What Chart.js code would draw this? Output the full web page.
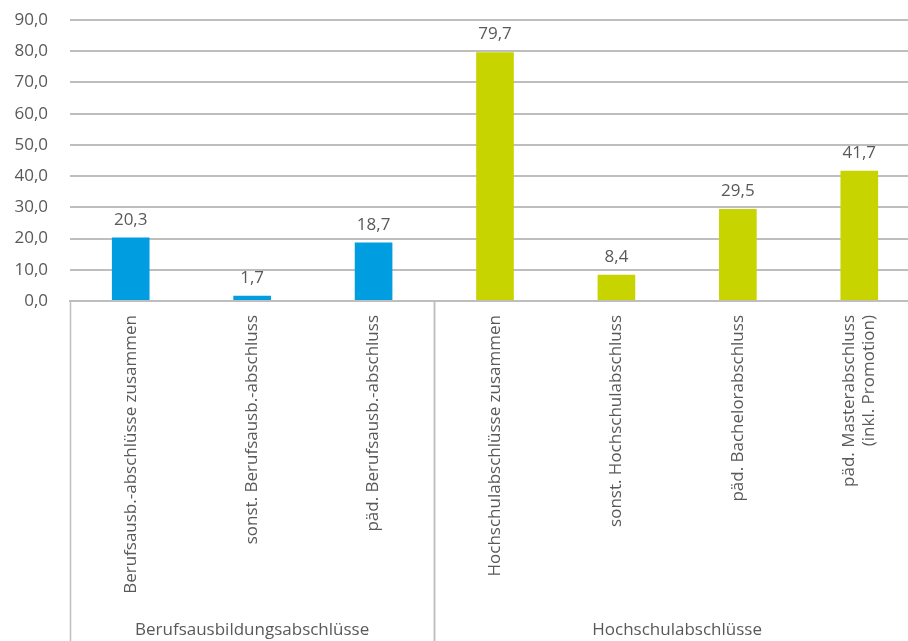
<!DOCTYPE html>
<html lang="de">
<head>
<meta charset="utf-8">
<script src="https://cdn.jsdelivr.net/npm/chart.js@4"></script>
<style>
  html, body { margin: 0; padding: 0; background: #fff; overflow: hidden; }
  /* Rahmen etwas breiter als das Fenster: im Original ist die letzte Kategorie rechts angeschnitten */
  #rahmen { width: 920px; height: 641px; }
</style>
</head>
<body>
<div id="rahmen"><canvas id="abschlussChart"></canvas></div>
<script>
// --- Daten ---
const KATEGORIEN = [
  'Berufsausb.-abschlüsse zusammen',
  'sonst. Berufsausb.-abschluss',
  'päd. Berufsausb.-abschluss',
  'Hochschulabschlüsse zusammen',
  'sonst. Hochschulabschluss',
  'päd. Bachelorabschluss',
  ['päd. Masterabschluss', '(inkl. Promotion)'],
];
const WERTE = [20.3, 1.7, 18.7, 79.7, 8.4, 29.5, 41.7];

// Gruppen unter der Achse (Titel + Anzahl Kategorien)
const GRUPPEN_TITEL = ['Berufsausbildungsabschlüsse', 'Hochschulabschlüsse'];
const GRUPPEN_ANZAHL = [3, 4];
const GRUPPEN_FARBE = ['#009ee0', '#c8d400'];

const Y_MIN = 0;
const Y_MAX = 90;
const Y_SCHRITT = 10;

const TEXTFARBE = '#595959';
const LINIENFARBE = '#bebebe';
const SCHRIFT = '17px "Open Sans", sans-serif';

const fmt = (v) => v.toFixed(1).replace('.', ',');

// Balkenfarbe je Kategorie aus der Gruppenzugehörigkeit
const balkenFarben = [];
GRUPPEN_ANZAHL.forEach((n, g) => {
  for (let i = 0; i < n; i++) balkenFarben.push(GRUPPEN_FARBE[g]);
});

// --- Werte über den Balken ---
const wertePlugin = {
  id: 'werte',
  afterDatasetsDraw(chart) {
    const ctx = chart.ctx;
    const meta = chart.getDatasetMeta(0);
    ctx.save();
    ctx.font = SCHRIFT;
    ctx.fillStyle = TEXTFARBE;
    ctx.textAlign = 'center';
    ctx.textBaseline = 'alphabetic';
    meta.data.forEach((bar, i) => {
      ctx.fillText(fmt(WERTE[i]), bar.x, bar.y - 13);
    });
    ctx.restore();
  }
};

// --- Mehrzeilige gedrehte Labels um die Balkenmitte zentrieren ---
// Chart.js setzt bei Rotation die erste Zeile auf die Tick-Position, das Original zentriert beide Zeilen
const mehrzeiligPlugin = {
  id: 'mehrzeilig',
  beforeDraw(chart) {
    const x = chart.scales.x;
    if (!x || typeof x.getLabelItems !== 'function') return;
    x.getLabelItems(chart.chartArea).forEach(item => {
      if (Array.isArray(item.label) && item.label.length > 1 && !item._zentriert) {
        item.textOffset -= (item.label.length - 1) * item.font.lineHeight / 2;
        item._zentriert = true;
      }
    });
  }
};

// --- Gruppentrenner und Gruppentitel unter der x-Achse ---
const gruppenPlugin = {
  id: 'gruppen',
  afterDraw(chart) {
    const ctx = chart.ctx;
    const x = chart.scales.x;
    const oben = chart.chartArea.bottom;
    const unten = chart.height;

    ctx.save();
    ctx.strokeStyle = LINIENFARBE;
    ctx.lineWidth = 1.5;
    ctx.font = SCHRIFT;
    ctx.fillStyle = TEXTFARBE;
    ctx.textAlign = 'center';
    ctx.textBaseline = 'alphabetic';

    let start = 0;
    GRUPPEN_ANZAHL.forEach((n, g) => {
      const links = x.getPixelForValue(start - 0.5);
      const rechts = x.getPixelForValue(start + n - 0.5);
      [links, rechts].forEach(px => {
        const p = Math.round(px) + 0.5;
        ctx.beginPath();
        ctx.moveTo(p, oben);
        ctx.lineTo(p, unten);
        ctx.stroke();
      });
      ctx.fillText(GRUPPEN_TITEL[g], (links + rechts) / 2, unten - 6);
      start += n;
    });
    ctx.restore();
  }
};

Chart.defaults.font.family = '"Open Sans", sans-serif';
Chart.defaults.font.size = 17;
Chart.defaults.color = TEXTFARBE;

new Chart(document.getElementById('abschlussChart'), {
  type: 'bar',
  data: {
    labels: KATEGORIEN,
    datasets: [{
      data: WERTE,
      backgroundColor: balkenFarben,
      borderWidth: 0,
      categoryPercentage: 1,
      barPercentage: 0.31,
    }],
  },
  options: {
    responsive: true,
    maintainAspectRatio: false,
    animation: false,
    layout: { padding: { top: 20, right: 0, bottom: 0, left: 0 } },
    plugins: {
      legend: { display: false },
      tooltip: { enabled: false },
    },
    scales: {
      x: {
        grid: { display: false, drawTicks: false },
        border: { display: true, color: LINIENFARBE, width: 2 },
        ticks: {
          autoSkip: false,
          maxRotation: 90,
          minRotation: 90,
          padding: 14,
        },
        afterFit: (scale) => { scale.height = 340; },
      },
      y: {
        min: Y_MIN,
        max: Y_MAX,
        grid: { color: LINIENFARBE, lineWidth: 2, drawTicks: false },
        border: { display: false },
        ticks: {
          stepSize: Y_SCHRITT,
          padding: 22,
          callback: (val) => fmt(val),
        },
        afterFit: (scale) => {
          scale.width = 70;
          // Tick-Padding nicht zusätzlich oben/unten aufschlagen
          scale.paddingTop = 0;
          scale.paddingBottom = 0;
        },
      },
    },
  },
  plugins: [wertePlugin, mehrzeiligPlugin, gruppenPlugin],
});
</script>
</body>
</html>
